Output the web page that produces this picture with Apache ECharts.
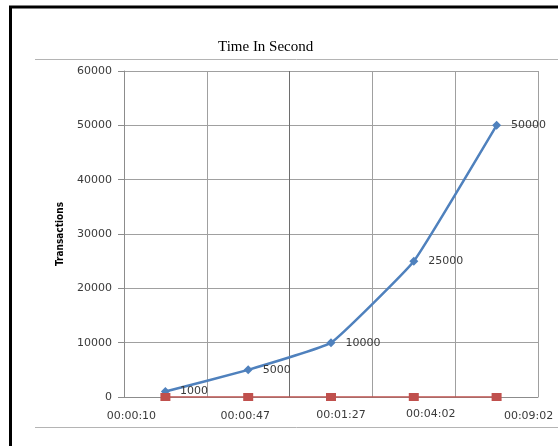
<!DOCTYPE html>
<html>
<head>
<meta charset="utf-8">
<title>Time In Second</title>
<script src="https://cdn.jsdelivr.net/npm/echarts@6/dist/echarts.min.js"></script>
<style>
  html, body { margin: 0; padding: 0; background: #fff; }
  #chart { width: 558px; height: 446px; }
</style>
</head>
<body>
<div id="chart"></div>
<script>
// Elapsed run time for each batch (category axis)
const timeLabels = ['00:00:10', '00:00:47', '00:01:27', '00:04:02', '00:09:02'];
// Number of transactions processed
const transactions = [1000, 5000, 10000, 25000, 50000];
// Second series sitting on the baseline
const baseline = [0, 0, 0, 0, 0];
// Value axis ticks
const yMin = 0, yMax = 60000, yStep = 10000;

// Horizontal nudges (px) applied to each time label
const labelShift = [-34, -3, 10, 17, 32];
const labelTop = [2, 2, 1, 0, 2];

const rich = {};
labelShift.forEach((s, i) => {
  rich['p' + i] = {
    fontFamily: 'DejaVu Sans',
    fontSize: 11,
    color: '#3a3a3a',
    padding: s < 0 ? [labelTop[i], -2 * s, 0, 0] : [labelTop[i], 0, 0, 2 * s]
  };
});

const chart = echarts.init(document.getElementById('chart'), null, { renderer: 'canvas' });

chart.setOption({
  animation: false,
  backgroundColor: '#ffffff',
  title: {
    text: 'Time In Second',
    left: 213,
    top: 35,
    textStyle: {
      fontFamily: 'Liberation Serif, Times New Roman, serif',
      fontSize: 15,
      fontWeight: 'normal',
      color: '#000'
    }
  },
  graphic: [
    { type: 'line', shape: { x1: 10.5, y1: 6, x2: 10.5, y2: 446 }, style: { stroke: '#000', lineWidth: 3 } },
    { type: 'line', shape: { x1: 9, y1: 7, x2: 558, y2: 7 }, style: { stroke: '#000', lineWidth: 3 } },
    { type: 'line', shape: { x1: 35, y1: 59.5, x2: 558, y2: 59.5 }, style: { stroke: '#b4b4b4', lineWidth: 1 } },
    { type: 'line', shape: { x1: 35, y1: 427.5, x2: 558, y2: 427.5 }, style: { stroke: '#b4b4b4', lineWidth: 1 } }
  ],
  grid: { left: 124, right: 20, top: 71, bottom: 49 },
  xAxis: {
    type: 'category',
    data: timeLabels,
    boundaryGap: true,
    axisLine: { lineStyle: { color: '#8c8c8c', width: 1 } },
    axisTick: { show: false },
    splitLine: { show: true, lineStyle: { color: ['#a0a0a0', '#a0a0a0', '#6e6e6e', '#a0a0a0', '#a0a0a0', '#a0a0a0'], width: 1 } },
    axisLabel: {
      interval: 0,
      margin: 12,
      formatter: (value, index) => '{p' + index + '|' + value + '}',
      rich: rich
    }
  },
  yAxis: {
    type: 'value',
    min: yMin,
    max: yMax,
    interval: yStep,
    name: 'Transactions',
    nameLocation: 'middle',
    nameGap: 59,
    nameTextStyle: {
      fontFamily: 'Liberation Sans Narrow, DejaVu Sans Condensed, sans-serif',
      fontWeight: 'bold',
      fontSize: 10,
      color: '#000'
    },
    axisLine: { show: true, lineStyle: { color: '#8c8c8c', width: 1 } },
    axisTick: { show: true, length: 6, lineStyle: { color: '#8c8c8c' } },
    splitLine: { show: true, lineStyle: { color: '#a0a0a0', width: 1 } },
    axisLabel: {
      margin: 12,
      formatter: (v) => String(v),
      fontFamily: 'DejaVu Sans',
      fontSize: 11,
      color: '#3a3a3a'
    }
  },
  series: [
    {
      name: 'Transactions',
      type: 'line',
      data: transactions,
      smooth: 0.1,
      symbol: 'diamond',
      symbolSize: 9,
      itemStyle: { color: '#4F81BD' },
      lineStyle: { color: '#4F81BD', width: 2.5 },
      label: {
        show: true,
        position: 'right',
        distance: 10,
        fontFamily: 'DejaVu Sans',
        fontSize: 11,
        color: '#3a3a3a'
      },
      z: 3
    },
    {
      name: 'Time',
      type: 'line',
      data: baseline,
      symbol: 'rect',
      symbolSize: [10, 8],
      itemStyle: { color: '#C0504D' },
      lineStyle: { color: '#C0504D', width: 1.5 },
      z: 4
    }
  ]
});
</script>
</body>
</html>
